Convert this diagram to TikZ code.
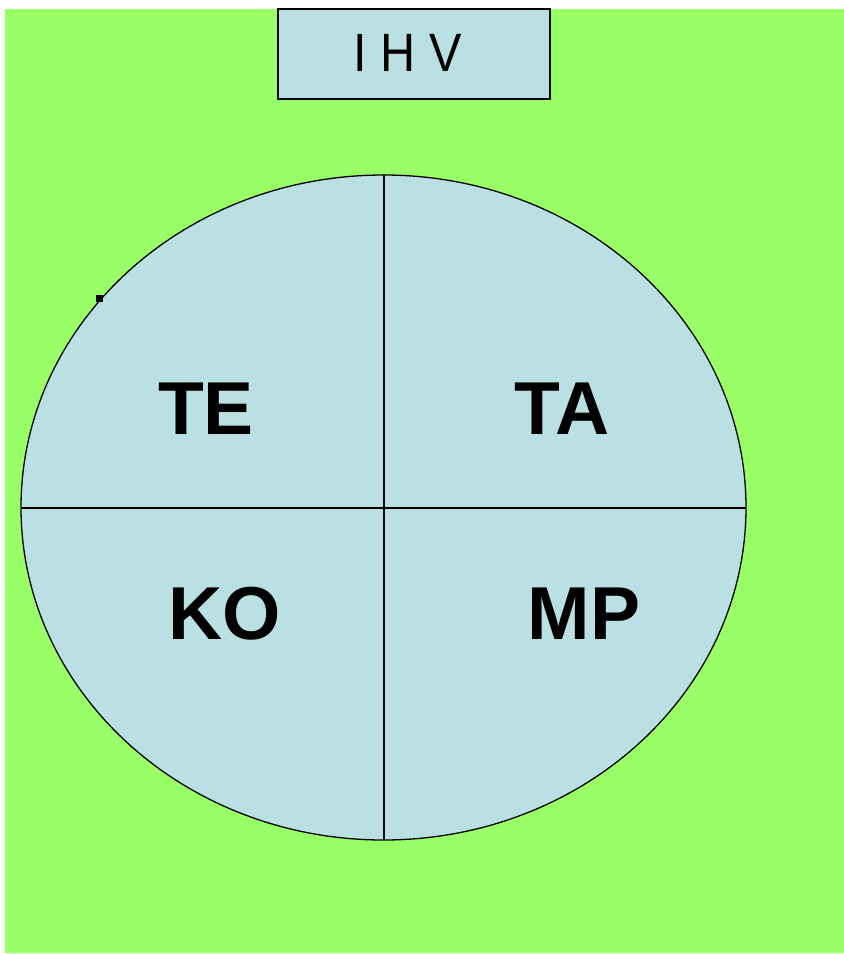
\documentclass[tikz,border=0pt]{standalone}
\usepackage{fontspec}
\setmainfont{Liberation Sans}
\definecolor{bggreen}{RGB}{153,255,102}
\definecolor{paleblue}{RGB}{187,224,227}
\tikzset{
  quad/.style={font=\bfseries\fontsize{75}{75}\selectfont, text=black},
  titlebox/.style={draw=black, line width=1.4pt, fill=paleblue}
}
\begin{document}
\begin{tikzpicture}[x=1pt,y=-1pt]
\useasboundingbox (0,0) rectangle (844,954);
\fill[white] (0,0) rectangle (844,954);
\fill[bggreen] (5,9) rectangle (844,953);
\node[titlebox, minimum width=272pt, minimum height=90pt, inner sep=0pt] (title) at (414,54) {};
\node[font=\fontsize{54}{54}\selectfont] (titletext) at (408,53) {\scalebox{0.9}[1]{I H V}};
\draw[fill=paleblue, line width=1.3pt] (383.5,507.5) ellipse [x radius=362.5, y radius=332.5];
\coordinate (top) at (384,175);
\coordinate (bottom) at (384,840);
\coordinate (left) at (21,508);
\coordinate (right) at (746,508);
\draw[line width=1.3pt] (top) -- (bottom);
\draw[line width=1.3pt] (left) -- (right);
\fill[black] (96,295) rectangle (103,302);
\node[quad] (te) at (206,409) {TE};
\node[quad] (ta) at (562,409) {TA};
\node[quad] (ko) at (225,614) {KO};
\node[quad] (mp) at (584,614) {MP};
\end{tikzpicture}
\end{document}
